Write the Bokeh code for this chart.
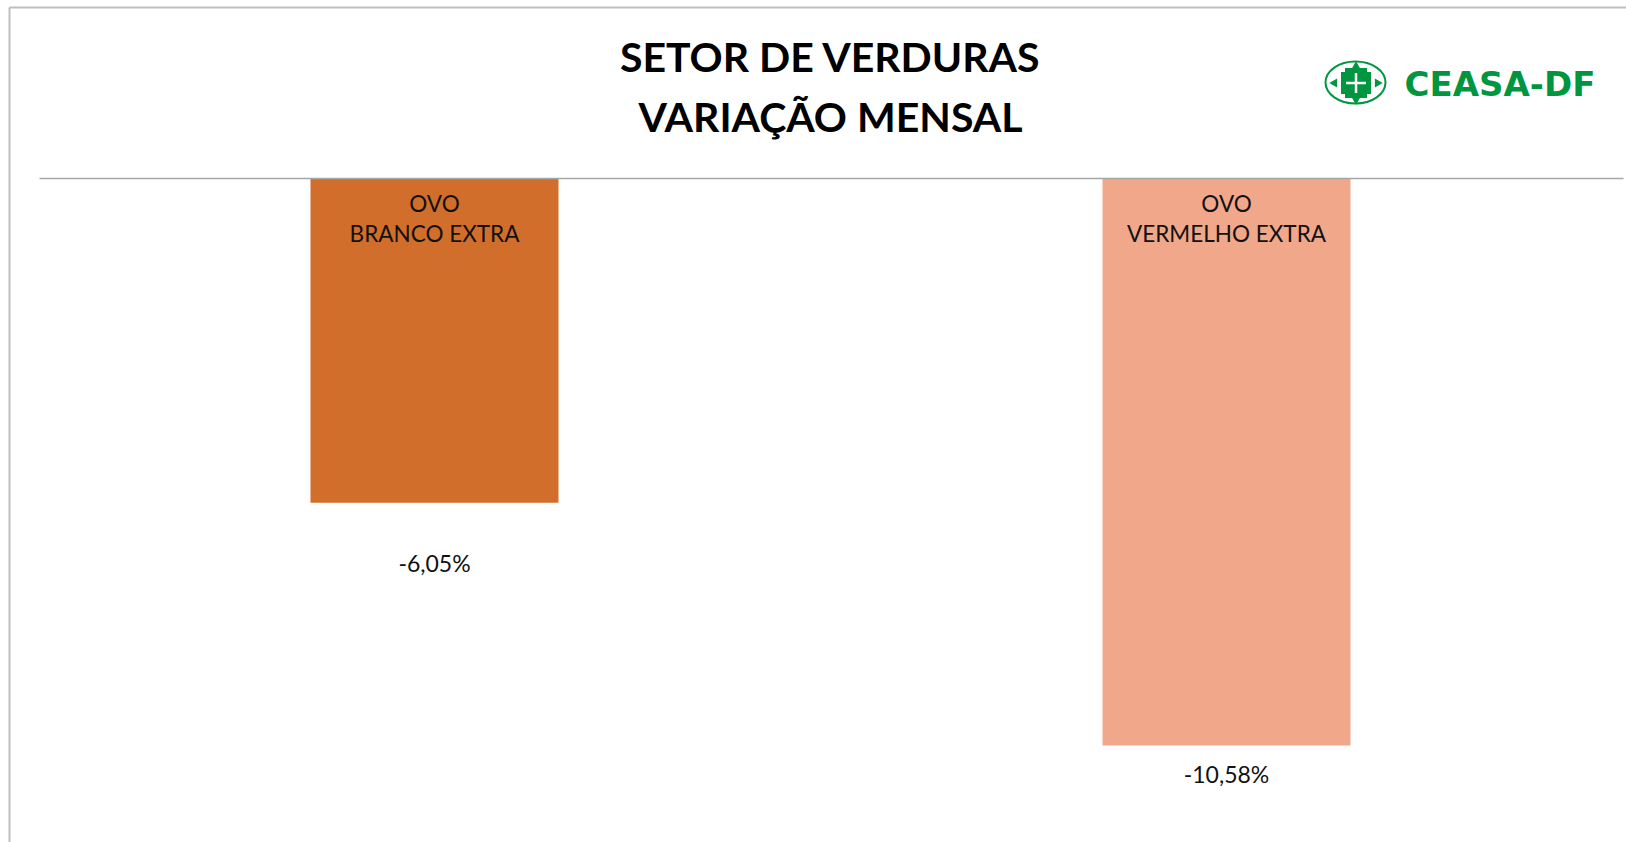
from bokeh.plotting import figure
from bokeh.models import Range1d, ColumnDataSource
from bokeh.core.properties import value
from bokeh.embed import file_html
from bokeh.resources import INLINE

# ---- data ----
categories = ["OVO\nBRANCO EXTRA", "OVO\nVERMELHO EXTRA"]
variation = [-6.05, -10.58]
value_labels = ["-6,05%", "-10,58%"]
bar_colors = ["#D26E2B", "#F1A78A"]
label_gap_px = [60, 28]  # distance of the value label below the bar end

title_lines = "SETOR DE VERDURAS\nVARIAÇÃO MENSAL"
logo_text = "CEASA-DF"

# ---- layout (pixels) ----
W, H = 1626, 842
ZERO_PX = 178          # zero line position from top
PX_PER_UNIT_Y = 53.6   # pixels per percentage point
CAT0_PX = 434          # centre of first bar
CAT_STEP_PX = 792      # distance between bar centres
BAR_W_PX = 248

x_range = Range1d(-CAT0_PX / CAT_STEP_PX, (W - CAT0_PX) / CAT_STEP_PX)
y_range = Range1d(-(H - ZERO_PX) / PX_PER_UNIT_Y, ZERO_PX / PX_PER_UNIT_Y)


def X(px):
    return (px - CAT0_PX) / CAT_STEP_PX


def Y(py):
    return (ZERO_PX - py) / PX_PER_UNIT_Y


p = figure(width=W, height=H, x_range=x_range, y_range=y_range,
           output_backend="svg", toolbar_location=None, min_border=0)
p.title.visible = False
p.xaxis.visible = False
p.yaxis.visible = False
p.grid.visible = False
p.outline_line_color = None
p.background_fill_color = "white"
p.border_fill_color = "white"

xs = list(range(len(categories)))
src = ColumnDataSource(dict(x=xs, top=[0] * len(xs), bottom=variation,
                            color=bar_colors, cat=categories,
                            lab=value_labels, gap=label_gap_px))

# outer chart border (left and top)
p.line([X(9), X(9)], [Y(7), Y(H + 5)], line_color="#BFBFBF", line_width=2)
p.line([X(9), X(W + 5)], [Y(7), Y(7)], line_color="#BFBFBF", line_width=2)

# bars
p.vbar(x="x", top="top", bottom="bottom", width=BAR_W_PX / CAT_STEP_PX,
       fill_color="color", line_color=None, source=src)

# zero line
p.line([X(39), X(1623)], [0, 0], line_color="#A6A6A6", line_width=1.5)

# category labels inside bars
p.text(x="x", y="top", text="cat", source=src, y_offset=40,
       text_align="center", text_baseline="middle",
       text_font=value("Lato"), text_font_size="22.5px", text_color="#111111",
       text_line_height=1.12)

# value labels below bars
p.text(x="x", y="bottom", text="lab", source=src, y_offset="gap",
       text_align="center", text_baseline="middle",
       text_font=value("Lato"), text_font_size="23px", text_color="#111111")

# title
p.text(x=[X(830)], y=[Y(86)], text=[title_lines], text_align="center",
       text_baseline="middle", text_font=value("Lato"), text_font_style="bold",
       text_font_size="41px", text_color="#000000", text_line_height=1.22)

# logo
GREEN = "#009640"
p.ellipse(x=[X(1355)], y=[Y(82)], width=[60], height=[42],
          width_units="screen", height_units="screen",
          fill_color=None, line_color=GREEN, line_width=2)
p.rect(x=[X(1355.5)], y=[Y(82.5)], width=[30], height=[22],
       width_units="screen", height_units="screen",
       fill_color=GREEN, line_color=None)
p.rect(x=[X(1355.5)], y=[Y(82.5)], width=[22], height=[30],
       width_units="screen", height_units="screen",
       fill_color=GREEN, line_color=None)
p.rect(x=[X(1355.5)], y=[Y(82.5)], width=[2.5], height=[20],
       width_units="screen", height_units="screen",
       fill_color="white", line_color=None)
p.rect(x=[X(1355.5)], y=[Y(82.5)], width=[20], height=[2.5],
       width_units="screen", height_units="screen",
       fill_color="white", line_color=None)
p.scatter(x=[X(1355.5), X(1355.5), X(1334), X(1377)],
          y=[Y(66), Y(99), Y(82.5), Y(82.5)],
          marker="triangle", size=9,
          angle=[0, 3.14159, 1.5708, -1.5708],
          fill_color=GREEN, line_color=None)
p.text(x=[X(1404)], y=[Y(83)], text=[logo_text], text_align="left",
       text_baseline="middle", text_font=value("DejaVu Sans"),
       text_font_style="bold", text_font_size="34px", text_color=GREEN)

open("out.html", "w").write(file_html(p, INLINE))
